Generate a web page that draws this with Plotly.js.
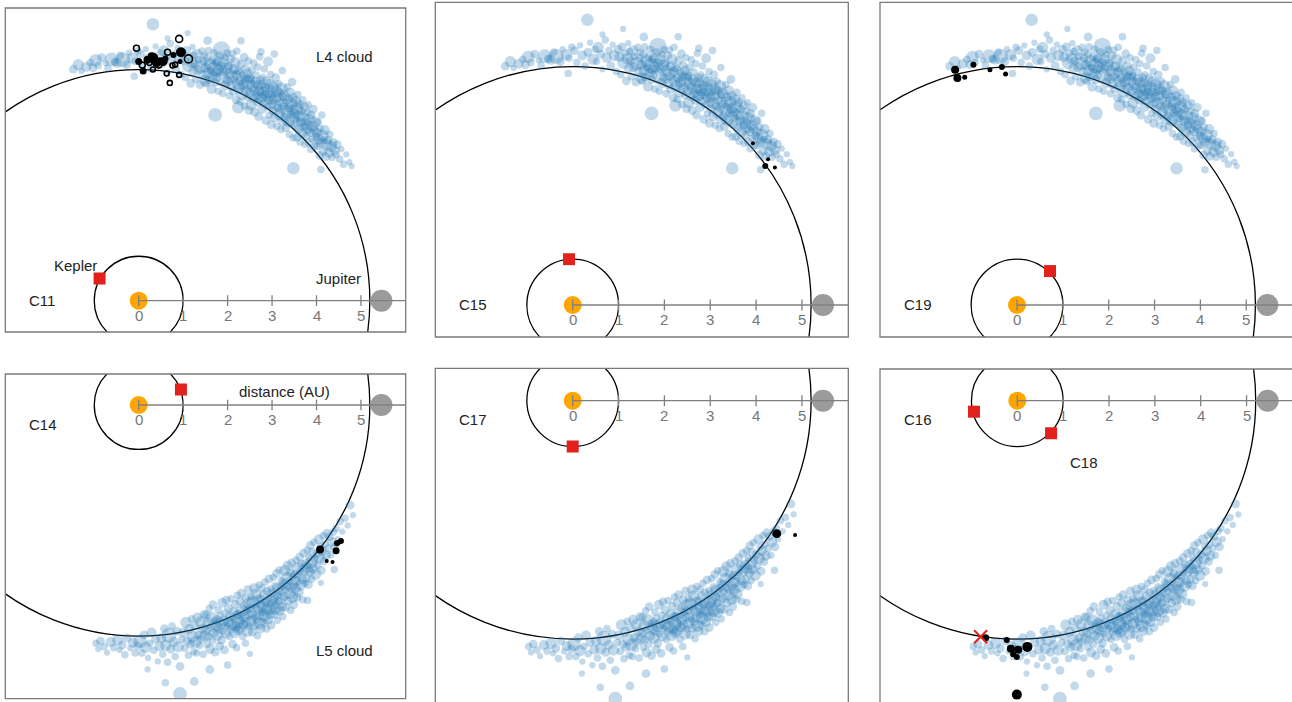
<!DOCTYPE html>
<html>
<head>
<meta charset="utf-8">
<script src="https://cdn.plot.ly/plotly-3.0.1.min.js"></script>
<style>html,body{margin:0;padding:0;background:#fff}#chart{width:1292px;height:702px}</style>
</head>
<body>
<div id="chart"></div>
<script>
// ---------------- DATA (AU, Sun at origin, Jupiter on +x axis) ----------------
const campaigns = ['C11', 'C15', 'C19', 'C14', 'C17', 'C16'];
const earthOrbitAU = 1.0;
const jupiterOrbitAU = 5.2;
const jupiterPosAU = 5.46;
const tickValues = [0, 1, 2, 3, 4, 5];
const tickLabels = ['0', '1', '2', '3', '4', '5'];

// L4 Trojan cloud (leading Jupiter)
const l4X = [
 -1.47,-1.36,-1.29,-1.18,-1.09,-1.03,
 -0.97,-0.91,-0.83,-0.74,-0.69,-0.61,-0.53,
 -0.48,-0.41,-0.36,-0.27,-0.22,-0.14,-0.08,-0.02,
 0.04,0.09,0.16,0.21,0.27,0.33,0.38,0.44,0.49,
 0.52,0.56,0.61,0.65,0.71,0.74,0.79,0.83,0.87,0.91,0.95,0.99,
 1.02,1.05,1.08,1.11,1.14,1.17,1.19,1.21,1.23,1.24,
 1.26,1.28,1.31,1.33,1.35,1.38,1.40,1.42,1.44,1.46,1.48,1.49,
 1.51,1.52,1.54,1.56,1.57,1.59,1.61,1.62,1.64,1.66,1.67,1.69,1.70,1.72,1.73,1.74,
 1.76,1.77,1.79,1.80,1.82,1.83,1.85,1.86,1.88,1.89,1.91,1.92,1.94,1.95,1.97,1.98,1.99,
 2.01,2.02,2.04,2.05,2.07,2.08,2.10,2.11,2.13,2.14,2.16,2.17,2.19,2.20,2.21,2.22,2.24,2.24,
 2.26,2.27,2.28,2.30,2.31,2.33,2.34,2.35,2.37,2.38,2.40,2.41,2.42,2.44,2.45,2.46,2.47,2.48,2.49,
 2.51,2.52,2.53,2.55,2.56,2.57,2.59,2.60,2.61,2.63,2.64,2.65,2.67,2.68,2.69,2.70,2.71,2.72,2.74,2.74,
 2.76,2.77,2.78,2.79,2.81,2.82,2.83,2.84,2.86,2.87,2.88,2.89,2.91,2.92,2.93,2.94,2.95,2.96,2.97,2.98,2.99,
 3.01,3.02,3.03,3.05,3.06,3.07,3.08,3.10,3.11,3.12,3.13,3.15,3.16,3.17,3.18,3.20,3.21,3.22,3.23,3.24,3.25,
 3.26,3.27,3.29,3.30,3.31,3.33,3.34,3.35,3.37,3.38,3.39,3.41,3.42,3.43,3.44,3.45,3.46,3.47,3.48,3.49,
 3.51,3.52,3.53,3.55,3.56,3.57,3.58,3.60,3.61,3.62,3.63,3.65,3.66,3.67,3.69,3.70,3.72,3.73,3.74,
 3.76,3.77,3.79,3.80,3.81,3.83,3.84,3.86,3.87,3.88,3.90,3.91,3.93,3.94,3.96,3.97,3.99,
 4.01,4.02,4.04,4.05,4.07,4.08,4.10,4.12,4.13,4.15,4.17,4.19,4.21,4.23,
 4.26,4.28,4.30,4.33,4.35,4.38,4.41,4.44,4.47,
 4.52,4.56,4.61,4.67,4.74,4.79,
 0.32,1.72,3.48,4.10,2.30,1.10,-0.10,2.75,1.55,3.05,0.65];
const l4Y = [
 5.21,5.31,5.17,5.26,5.36,5.24,
 5.41,5.29,5.47,5.34,5.23,5.43,5.37,
 5.35,5.52,5.42,5.31,5.58,5.46,5.38,5.62,
 5.55,5.29,5.66,5.44,5.21,5.51,5.72,5.36,5.58,
 5.31,5.62,5.47,5.14,5.78,5.39,5.55,5.22,5.68,5.44,5.09,5.58,
 5.41,5.02,5.63,5.28,5.49,4.89,5.37,5.71,5.16,5.53,
 5.33,4.98,5.54,5.19,5.42,4.86,5.27,5.62,5.08,5.38,5.51,4.95,
 5.24,4.88,5.47,5.11,5.63,4.97,5.32,5.18,4.76,5.41,5.05,5.58,5.22,4.92,5.36,5.13,
 5.02,5.38,4.71,5.19,5.51,4.91,5.28,5.64,5.08,4.66,5.35,5.14,4.84,5.46,5.23,4.97,5.57,
 4.93,5.27,4.61,5.12,5.44,4.82,5.03,5.56,4.71,5.21,4.97,5.36,4.52,5.08,5.62,4.88,5.17,4.35,
 4.79,5.14,4.48,4.95,5.33,4.66,5.07,4.87,5.48,4.38,4.99,5.22,4.73,4.57,5.11,4.91,5.39,4.28,5.02,
 4.67,4.98,4.41,5.19,4.82,4.55,5.35,4.73,4.24,4.91,5.08,4.62,4.47,5.26,4.85,4.14,4.71,5.49,4.58,4.96,
 4.55,4.86,4.32,5.02,4.68,4.44,5.21,4.79,4.05,4.61,4.95,4.37,5.38,4.72,4.51,4.18,4.87,4.63,5.09,3.96,4.42,
 4.52,4.27,4.81,4.63,4.12,4.41,5.02,4.71,3.92,4.56,4.34,4.88,4.19,4.67,4.47,3.85,4.77,4.29,5.18,4.58,4.05,
 4.38,4.62,4.11,4.46,3.89,4.27,4.81,4.53,4.03,4.34,3.74,4.68,4.19,4.43,3.97,4.92,4.28,4.56,3.66,4.12,
 4.21,3.93,4.48,4.07,3.68,4.33,4.64,3.86,4.15,4.42,3.57,4.01,4.27,3.77,4.52,4.09,3.91,4.35,3.52,
 3.98,3.71,4.24,3.85,4.41,3.56,4.07,3.79,3.41,4.18,3.92,3.63,4.31,3.84,3.47,4.02,3.69,
 3.78,3.49,4.02,3.64,3.27,3.88,3.55,4.18,3.71,3.36,3.61,3.84,3.24,3.52,
 3.61,3.33,3.74,3.47,3.22,3.56,3.38,3.29,3.51,
 3.19,3.41,3.07,3.29,3.12,3.03,
 6.22,4.18,2.98,2.95,5.85,6.02,5.05,5.60,5.85,5.55,5.90];
const l4Size = [
 7,9,5,8,6,7,
 10,6,7,5,6,11,7,
 8,6,12,7,5,9,6,6,
 7,6,5,8,6,7,5,9,6,
 6,9,7,5,6,8,6,7,5,9,6,7,
 8,6,7,10,6,7,9,5,8,6,
 7,6,9,8,6,7,11,6,8,7,6,9,
 8,6,7,9,6,7,10,6,8,7,9,6,12,7,6,8,
 7,8,6,9,7,6,8,14,7,6,9,7,8,6,10,7,6,
 8,7,6,9,7,8,10,6,7,8,6,9,7,8,6,9,7,10,
 9,7,6,8,7,10,6,9,7,6,8,7,9,6,8,11,6,7,8,
 8,7,9,6,10,7,6,8,7,9,6,8,7,6,9,7,8,6,10,7,
 9,7,8,6,10,7,6,8,7,9,7,6,8,11,7,6,9,8,6,7,8,
 8,7,9,6,8,10,7,9,6,8,7,6,9,8,7,6,10,8,6,7,9,
 7,9,8,6,7,10,6,8,9,7,6,8,7,10,6,7,9,8,6,8,
 8,7,9,6,7,10,6,8,9,7,6,8,7,9,6,11,7,8,6,
 9,7,6,8,6,7,10,8,6,7,9,6,7,8,6,9,7,
 8,7,6,9,7,6,8,6,10,7,6,8,7,9,
 7,8,6,9,6,7,8,6,7,
 6,5,6,5,5,5,
 10,11,10,6,6,5,6,6,7,6,5];

// L5 Trojan cloud (trailing Jupiter)
const l5X = [
 -0.96,-0.91,-0.86,-0.78,-0.71,-0.63,-0.56,
 -0.47,-0.43,-0.37,-0.31,-0.26,-0.19,-0.13,-0.08,-0.03,
 0.03,0.07,0.12,0.16,0.21,0.25,0.29,0.34,0.38,0.43,0.47,
 0.51,0.54,0.58,0.61,0.65,0.68,0.72,0.75,0.79,0.82,0.86,0.89,0.93,0.97,
 1.01,1.04,1.06,1.09,1.12,1.14,1.17,1.19,1.22,1.24,
 1.26,1.28,1.30,1.32,1.34,1.37,1.39,1.41,1.43,1.45,1.47,1.49,
 1.51,1.52,1.54,1.56,1.57,1.59,1.61,1.62,1.64,1.66,1.67,1.69,1.71,1.72,1.74,
 1.76,1.77,1.79,1.80,1.82,1.83,1.85,1.86,1.88,1.89,1.91,1.93,1.94,1.96,1.97,1.99,
 2.01,2.02,2.04,2.05,2.07,2.08,2.10,2.11,2.13,2.14,2.16,2.17,2.19,2.20,2.21,2.22,2.24,2.24,
 2.26,2.27,2.28,2.30,2.31,2.33,2.34,2.35,2.37,2.38,2.40,2.41,2.42,2.44,2.45,2.46,2.47,2.48,2.49,
 2.51,2.52,2.53,2.55,2.56,2.57,2.59,2.60,2.61,2.63,2.64,2.65,2.67,2.68,2.69,2.70,2.71,2.72,2.74,2.74,
 2.76,2.77,2.78,2.79,2.81,2.82,2.83,2.84,2.86,2.87,2.88,2.89,2.91,2.92,2.93,2.94,2.96,2.97,2.98,2.99,
 3.01,3.02,3.03,3.05,3.06,3.07,3.08,3.10,3.11,3.12,3.13,3.15,3.16,3.17,3.18,3.20,3.21,3.22,3.23,3.24,
 3.26,3.27,3.29,3.30,3.31,3.33,3.34,3.35,3.37,3.38,3.39,3.41,3.42,3.43,3.44,3.46,3.47,3.48,3.49,
 3.51,3.52,3.54,3.55,3.56,3.58,3.59,3.60,3.62,3.63,3.65,3.66,3.68,3.69,3.71,3.72,3.74,
 3.76,3.77,3.79,3.80,3.82,3.83,3.85,3.86,3.88,3.89,3.91,3.93,3.94,3.96,3.98,
 4.01,4.03,4.05,4.07,4.09,4.11,4.13,4.15,4.17,4.19,4.21,4.23,
 4.26,4.29,4.32,4.35,4.38,4.41,4.44,4.48,
 4.53,4.58,4.64,4.70,4.76,4.82,
 0.93,0.60,1.25,2.00,4.10,3.80,2.50,1.60,0.20,4.40];
const l5Y = [
 -5.36,-5.49,-5.31,-5.44,-5.57,-5.33,-5.46,
 -5.29,-5.51,-5.40,-5.62,-5.24,-5.47,-5.35,-5.58,-5.42,
 -5.31,-5.58,-5.17,-5.45,-5.69,-5.36,-5.12,-5.52,-5.27,-5.77,-5.43,
 -5.24,-5.61,-5.03,-5.41,-5.79,-5.18,-5.49,-4.97,-5.33,-5.66,-5.09,-5.44,-5.88,-5.27,
 -5.12,-5.47,-4.89,-5.31,-5.63,-5.04,-5.38,-4.81,-5.21,-5.55,
 -4.96,-5.33,-5.58,-4.78,-5.17,-5.41,-4.88,-5.26,-5.04,-5.61,-4.71,-5.19,
 -5.07,-4.72,-5.38,-4.91,-5.21,-4.58,-5.49,-5.01,-4.79,-5.31,-4.49,-5.13,-4.86,-5.56,-4.97,
 -4.83,-5.18,-4.61,-5.02,-5.42,-4.74,-4.92,-5.29,-4.45,-5.09,-4.86,-5.51,-4.68,-5.14,-4.39,-4.97,
 -4.88,-4.57,-5.21,-4.76,-5.04,-4.36,-4.93,-5.38,-4.66,-4.82,-5.12,-4.48,-4.99,-5.46,-4.71,-4.28,-5.07,-4.87,
 -4.72,-4.41,-5.02,-4.85,-4.23,-4.63,-5.21,-4.94,-4.52,-4.77,-5.36,-4.34,-4.88,-4.61,-5.09,-4.15,-4.71,-4.98,-4.46,
 -4.58,-4.87,-4.31,-4.69,-5.11,-4.44,-4.78,-4.12,-4.96,-4.53,-4.25,-4.82,-5.19,-4.61,-4.37,-4.72,-4.05,-4.91,-4.48,-5.03,
 -4.38,-4.66,-4.11,-4.52,-4.89,-4.27,-4.74,-3.98,-4.44,-4.61,-5.04,-4.19,-4.83,-4.35,-3.91,-4.57,-4.71,-4.14,-4.95,-4.41,
 -4.22,-4.49,-3.88,-4.35,-4.71,-4.06,-4.58,-3.79,-4.27,-4.84,-4.13,-4.42,-3.71,-4.63,-4.19,-4.36,-3.95,-4.54,-4.08,-4.76,
 -4.02,-4.31,-3.72,-4.17,-4.55,-3.89,-4.08,-3.61,-4.41,-3.96,-4.24,-3.78,-4.62,-4.11,-3.55,-4.33,-3.85,-4.04,-4.49,
 -3.81,-4.12,-3.49,-3.96,-4.33,-3.68,-3.87,-4.22,-3.42,-3.75,-4.05,-3.58,-3.92,-4.38,-3.33,-3.71,-4.01,
 -3.58,-3.89,-3.27,-3.66,-4.04,-3.43,-3.75,-3.16,-3.54,-3.92,-3.31,-3.68,-3.09,-3.47,-3.81,
 -3.35,-3.61,-3.02,-3.44,-3.19,-3.72,-3.28,-2.94,-3.51,-3.13,-3.38,-2.88,
 -3.22,-2.96,-3.37,-3.08,-2.85,-3.19,-2.78,-3.02,
 -2.62,-2.85,-2.55,-2.71,-2.25,-2.48,
 -6.50,-6.25,-6.22,-5.85,-4.00,-4.40,-5.60,-5.95,-5.95,-3.70];
const l5Size = [
 6,5,7,6,5,8,6,
 9,5,7,6,7,5,8,6,7,
 11,6,7,9,5,6,8,6,7,5,8,
 8,6,7,9,6,12,7,6,8,6,7,9,7,6,
 8,6,9,7,6,8,7,6,10,6,
 7,10,6,8,7,6,9,7,8,6,7,9,
 8,7,6,9,7,6,8,7,10,6,7,8,6,7,9,
 7,9,6,8,7,6,10,7,8,6,9,7,6,8,7,6,
 9,7,6,8,7,6,10,7,8,6,9,7,8,6,7,6,8,11,
 8,7,9,6,7,10,6,8,7,9,6,7,8,6,9,7,8,6,10,
 7,9,6,8,7,10,6,8,7,6,9,7,6,8,7,9,6,10,7,8,
 8,7,6,9,7,8,10,6,7,9,6,7,8,6,7,11,8,6,7,9,
 7,9,6,8,7,6,10,7,8,6,9,7,6,8,7,9,6,8,7,6,
 8,7,9,6,7,10,6,8,7,6,9,7,6,8,7,9,6,8,7,
 7,9,6,8,7,10,6,8,7,6,9,7,8,6,7,9,6,
 8,7,6,9,7,6,8,7,10,6,7,8,6,7,9,
 7,6,8,9,6,7,8,6,7,6,8,7,
 6,7,6,8,6,7,6,5,
 6,5,6,5,7,5,
 11,6,7,6,5,6,5,7,5,6];

// Kepler spacecraft positions (one per campaign; the C16 panel also shows C18)
const keplerC11X = [-0.88], keplerC11Y = [0.50];
const keplerC15X = [-0.08], keplerC15Y = [1.00];
const keplerC19X = [0.72],  keplerC19Y = [0.74];
const keplerC14X = [0.95],  keplerC14Y = [0.35];
const keplerC17X = [0.00],  keplerC17Y = [-1.00];
const keplerC16X = [-0.945, 0.736], keplerC16Y = [-0.24, -0.71];

// Observed Trojan targets (filled)
const targC11X = [0.00,0.10,0.29,0.33,0.40,0.48,0.55,0.60,0.78,0.93,0.95,0.20];
const targC11Y = [5.38,5.17,5.50,5.46,5.35,5.40,5.38,5.45,5.53,5.38,5.59,5.42];
const targC11S = [7,7,8,10,9,7,9,6,6,5,10,8];
// Observed Trojan targets (open symbols, C11)
const openC11X = [0.91,-0.05,0.65,1.12,0.24,0.32,0.63,0.91,0.70,0.76,0.82,0.08,0.45];
const openC11Y = [5.89,5.68,5.59,5.44,5.35,5.20,5.11,5.08,4.90,5.29,5.31,5.30,5.30];
const openC11S = [7,6,6,8,5,5,5,5,5,5,5,6,6];
const targC15X = [3.93,4.26,4.20,4.41];
const targC15Y = [3.53,3.18,3.03,3.00];
const targC15S = [4,4,6,4];
const targC19X = [-1.35,-1.30,-1.14,-0.95,-0.59,-0.33,-0.25];
const targC19Y = [5.13,4.95,4.97,5.24,5.13,5.19,5.04];
const targC19S = [8,8,5,6,5,6,5];
const targC14X = [4.08,4.46,4.55,4.44,4.23,4.36,4.50];
const targC14Y = [-3.25,-3.11,-3.06,-3.28,-3.51,-3.53,-3.09];
const targC14S = [8,6,6,7,4,4,5];
const targC17X = [4.45,4.85];
const targC17Y = [-2.90,-2.93];
const targC17S = [9,4];
const targC16X = [-0.69,-0.23,-0.14,0.02,0.22,-0.09,-0.01,-0.01];
const targC16Y = [-5.17,-5.22,-5.41,-5.43,-5.37,-5.53,-5.59,-6.41];
const targC16S = [7,6,8,8,10,6,6,10];
const lostC16X = [-0.80], lostC16Y = [-5.15];

// ---------------- LAYOUT GEOMETRY (pixels) ----------------
const W = 1292, H = 702;
const panels = [
  {dx:[5.3,405.7],  dy:[8,332],     frame:[5.3,8,405.7,332],     sun:[138.7,300.7], s:44.45, cloud:'L4',
   kx:keplerC11X, ky:keplerC11Y, tx:targC11X, ty:targC11Y, ts:targC11S},
  {dx:[435.3,848.3],dy:[2.3,337],   frame:[435.3,2.3,848.3,337], sun:[572.7,305],   s:45.85, cloud:'L4',
   kx:keplerC15X, ky:keplerC15Y, tx:targC15X, ty:targC15Y, ts:targC15S},
  {dx:[880,1292],   dy:[2.3,337],   frame:[880,2.3,1310,337],    sun:[1017,305],    s:45.85, cloud:'L4',
   kx:keplerC19X, ky:keplerC19Y, tx:targC19X, ty:targC19Y, ts:targC19S},
  {dx:[5.3,405.7],  dy:[374,698.7], frame:[5.3,374,405.7,698.7], sun:[138.7,405],   s:44.45, cloud:'L5',
   kx:keplerC14X, ky:keplerC14Y, tx:targC14X, ty:targC14Y, ts:targC14S},
  {dx:[435.3,848.3],dy:[368.3,702], frame:[435.3,368.3,848.3,720], sun:[572.7,400.7], s:45.85, cloud:'L5',
   kx:keplerC17X, ky:keplerC17Y, tx:targC17X, ty:targC17Y, ts:targC17S},
  {dx:[880,1292],   dy:[369,702],   frame:[880,369,1310,720],    sun:[1017.3,400.7],s:45.85, cloud:'L5',
   kx:keplerC16X, ky:keplerC16Y, tx:targC16X, ty:targC16Y, ts:targC16S}
];

const FONT = 'Liberation Sans, Arial, Helvetica, sans-serif';
const traces = [], shapes = [], annotations = [];
const layout = {
  width: W, height: H, margin:{l:0,r:0,t:0,b:0},
  paper_bgcolor:'#fff', plot_bgcolor:'rgba(0,0,0,0)', showlegend:false, hovermode:false
};

panels.forEach((p, i) => {
  const n = i === 0 ? '' : String(i + 1);
  const xr = 'x' + n, yr = 'y' + n;
  const xRange = [(p.dx[0]-p.sun[0])/p.s, (p.dx[1]-p.sun[0])/p.s];
  const yRange = [(p.sun[1]-p.dy[1])/p.s, (p.sun[1]-p.dy[0])/p.s];
  layout['xaxis' + n] = {domain:[p.dx[0]/W, p.dx[1]/W], range:xRange, visible:false, fixedrange:true, anchor:yr};
  layout['yaxis' + n] = {domain:[1-p.dy[1]/H, 1-p.dy[0]/H], range:yRange, visible:false, fixedrange:true, anchor:xr};

  // frame
  shapes.push({type:'rect', xref:'paper', yref:'paper', x0:p.frame[0]/W, x1:p.frame[2]/W,
    y0:1-p.frame[3]/H, y1:1-p.frame[1]/H, line:{color:'#7a7a7a', width:1.3}, fillcolor:'rgba(0,0,0,0)', layer:'above'});
  // orbits
  shapes.push({type:'circle', xref:xr, yref:yr, x0:-earthOrbitAU, x1:earthOrbitAU, y0:-earthOrbitAU, y1:earthOrbitAU,
    line:{color:'#000', width:1.3}, layer:'below'});
  shapes.push({type:'circle', xref:xr, yref:yr, x0:-jupiterOrbitAU, x1:jupiterOrbitAU, y0:-jupiterOrbitAU, y1:jupiterOrbitAU,
    line:{color:'#000', width:1.3}, layer:'below'});
  // distance axis
  shapes.push({type:'line', xref:xr, yref:yr, x0:0, x1:xRange[1]+0.5, y0:0, y1:0, line:{color:'#808080', width:1.3}, layer:'above'});
  tickValues.forEach((t, k) => {
    shapes.push({type:'line', xref:xr, yref:yr, x0:t, x1:t, y0:-0.12, y1:0.12, line:{color:'#808080', width:1.3}, layer:'above'});
    annotations.push({xref:xr, yref:yr, x:t, y:0, text:tickLabels[k], showarrow:false, yshift:-15,
      xanchor:'center', yanchor:'middle', font:{family:FONT, size:15, color:'#777'}});
  });

  // Trojan cloud
  const cx = p.cloud === 'L4' ? l4X : l5X, cy = p.cloud === 'L4' ? l4Y : l5Y, cs = p.cloud === 'L4' ? l4Size : l5Size;
  traces.push({type:'scatter', mode:'markers', x:cx, y:cy, xaxis:xr, yaxis:yr,
    marker:{color:'#1f77b4', size:cs, sizemode:'diameter', sizeref:0.8, opacity:0.28, line:{width:0}}});
  // Sun
  traces.push({type:'scatter', mode:'markers', x:[0], y:[0], xaxis:xr, yaxis:yr,
    marker:{color:'#FFA500', size:18, opacity:1, line:{width:0}}});
  // Jupiter
  traces.push({type:'scatter', mode:'markers', x:[jupiterPosAU], y:[0], xaxis:xr, yaxis:yr,
    marker:{color:'#9b9b9b', size:22, opacity:1, line:{width:0}}});
  // Kepler
  traces.push({type:'scatter', mode:'markers', x:p.kx, y:p.ky, xaxis:xr, yaxis:yr,
    marker:{color:'#E3211C', size:12, symbol:'square', opacity:1, line:{width:0}}});
  // Targets
  traces.push({type:'scatter', mode:'markers', x:p.tx, y:p.ty, xaxis:xr, yaxis:yr,
    marker:{color:'#000', size:p.ts, opacity:1, line:{width:0}}});
  if (i === 0) {
    traces.push({type:'scatter', mode:'markers', x:openC11X, y:openC11Y, xaxis:xr, yaxis:yr,
      marker:{color:'#000', size:openC11S, symbol:'circle-open', opacity:1, line:{width:1.6, color:'#000'}}});
  }
  if (i === 5) {
    traces.push({type:'scatter', mode:'markers', x:lostC16X, y:lostC16Y, xaxis:xr, yaxis:yr,
      marker:{color:'#E3211C', size:13, symbol:'x-thin-open', opacity:1, line:{width:2, color:'#E3211C'}}});
  }
});

function label(i, x, y, text) {
  const n = i === 0 ? '' : String(i + 1);
  annotations.push({xref:'x'+n, yref:'y'+n, x:x, y:y, text:text, showarrow:false,
    xanchor:'center', yanchor:'middle', font:{family:FONT, size:15, color:'#222'}});
}
label(0, -2.18, 0.0, campaigns[0]);
label(0, -1.43, 0.80, 'Kepler');
label(0, 4.49, 0.49, 'Jupiter');
label(0, 4.62, 5.49, 'L4 cloud');
label(1, -2.17, 0.0, campaigns[1]);
label(2, -2.16, 0.0, campaigns[2]);
label(3, -2.15, -0.43, campaigns[3]);
label(3, 3.28, 0.31, 'distance (AU)');
label(3, 4.62, -5.52, 'L5 cloud');
label(4, -2.17, -0.42, campaigns[4]);
label(5, -2.16, -0.42, campaigns[5]);
label(5, 1.45, -1.35, 'C18');

layout.shapes = shapes;
layout.annotations = annotations;
Plotly.newPlot('chart', traces, layout, {staticPlot:true, displayModeBar:false});
</script>
</body>
</html>
